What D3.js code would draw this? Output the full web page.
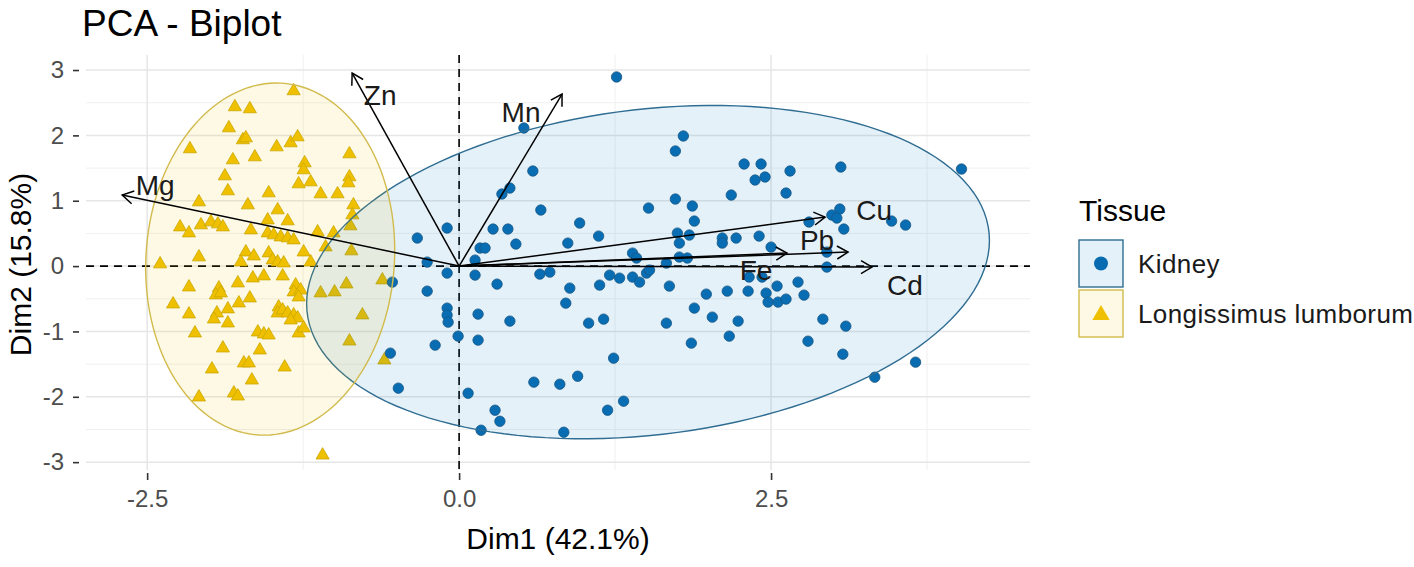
<!DOCTYPE html>
<html>
<head>
<meta charset="utf-8">
<script src="https://cdn.jsdelivr.net/npm/d3@7"></script>
<style>
  body { margin: 0; background: #fff; }
  svg { display: block; font-family: "Liberation Sans", Arial, sans-serif; }
</style>
</head>
<body>
<div id="chart"></div>
<script>
// individuals, [Dim1, Dim2]
const kidney = [
  [1.262, 2.894], [0.519, 2.113], [1.797, 1.991], [1.733, 1.761], [0.591, 1.455], [0.407, 1.194], [0.343, 1.103], [0.655, 0.858], [1.518, 0.888], [1.733, 1.026],
  [1.869, 0.919], [1.885, 0.689], [-0.096, 0.582], [-0.335, 0.429], [0.272, 0.567], [0.391, 0.567], [0.966, 0.659], [1.118, 0.459], [0.871, 0.352], [0.455, 0.337],
  [0.168, 0.276], [0.208, 0.276], [1.749, 0.505], [1.765, 0.352], [1.845, 0.475], [-0.256, 0.061], [0.128, 0.092], [1.390, 0.199], [1.422, 0.123], [1.661, 0.046],
  [1.765, 0.138], [1.829, 0.123], [-0.096, -0.107], [0.128, -0.138], [0.647, -0.123], [0.727, -0.092], [1.206, -0.138], [1.286, -0.184], [1.390, -0.168], [1.502, -0.107],
  [-0.535, -0.245], [-0.256, -0.383], [0.304, -0.276], [0.887, -0.337], [1.126, -0.291], [1.446, -0.245], [1.526, -0.061], [1.685, -0.306], [0.855, -0.567], [-0.096, -0.643],
  [-0.096, -0.750], [-0.088, -0.858], [0.152, -0.735], [0.407, -0.842], [1.038, -0.873], [1.158, -0.812], [1.661, -0.873], [1.885, -0.643], [-0.008, -1.072], [-0.192, -1.210],
  [0.152, -1.133], [1.861, -1.179], [-0.551, -1.332], [1.238, -1.409], [0.950, -1.685], [0.599, -1.776], [0.807, -1.807], [-0.487, -1.868], [0.072, -1.945], [1.318, -2.067],
  [1.190, -2.205], [0.288, -2.205], [0.327, -2.374], [0.176, -2.511], [0.839, -2.542], [2.284, 1.562], [2.420, 1.562], [2.372, 1.317], [2.452, 1.363], [2.652, 1.455],
  [3.059, 1.516], [4.026, 1.485], [2.181, 1.087], [2.620, 1.118], [2.987, 0.781], [3.051, 0.873], [3.027, 0.735], [3.466, 0.689], [3.578, 0.628], [3.083, 0.567],
  [2.109, 0.429], [2.109, 0.352], [2.220, 0.429], [2.404, 0.459], [2.500, 0.291], [2.804, 0.674], [2.947, 0.214], [2.947, -0.015], [2.324, -0.168], [2.428, -0.168],
  [1.981, -0.429], [2.149, -0.383], [2.316, -0.383], [2.460, -0.413], [2.476, -0.551], [2.556, -0.551], [2.620, -0.505], [2.548, -0.306], [2.716, -0.245], [2.764, -0.444],
  [2.029, -0.781], [2.236, -0.842], [2.165, -1.072], [2.915, -0.812], [3.099, -0.919], [2.796, -1.149], [3.075, -1.348], [3.658, -1.470], [3.331, -1.700]
];

const longissimus = [
  [-1.326, 2.680], [-1.797, 2.435], [-1.677, 2.404], [-1.845, 2.113], [-1.733, 1.930], [-1.709, 1.960], [-2.157, 1.792], [-1.462, 1.822], [-1.350, 1.884], [-1.294, 1.975],
  [-1.637, 1.669], [-1.813, 1.623], [-0.879, 1.715], [-1.238, 1.577], [-1.246, 1.470], [-1.877, 1.378], [-0.879, 1.363], [-0.887, 1.271], [-1.286, 1.256], [-1.190, 1.286],
  [-1.853, 1.149], [-1.526, 1.118], [-1.110, 1.103], [-0.974, 1.103], [-2.085, 0.980], [-1.693, 0.934], [-0.847, 0.934], [-0.855, 0.781], [-1.454, 0.858], [-2.069, 0.628],
  [-1.989, 0.674], [-1.933, 0.643], [-1.893, 0.597], [-2.236, 0.597], [-2.165, 0.505], [-1.534, 0.704], [-1.374, 0.689], [-1.669, 0.551], [-1.534, 0.505], [-1.486, 0.475],
  [-1.430, 0.444], [-1.374, 0.429], [-1.326, 0.398], [-1.134, 0.521], [-1.006, 0.505], [-0.871, 0.613], [-1.070, 0.291], [-1.246, 0.214], [-0.863, 0.230], [-2.085, 0.138],
  [-1.709, 0.214], [-1.645, 0.153], [-1.526, 0.199], [-1.494, 0.092], [-1.454, 0.061], [-2.396, 0.031], [-1.749, 0.061], [-1.190, 0.061], [-1.406, 0.046],
  [-2.165, -0.322], [-1.925, -0.337], [-1.949, -0.444], [-1.909, -0.413], [-1.773, -0.260], [-1.653, -0.184], [-1.565, -0.153], [-1.414, -0.153], [-1.310, -0.291], [-1.326, -0.398],
  [-1.270, -0.368], [-1.286, -0.475], [-1.110, -0.413], [-0.998, -0.398], [-0.903, -0.276], [-0.615, -0.214], [-2.292, -0.582], [-2.165, -0.735], [-1.941, -0.720], [-1.965, -0.812],
  [-1.853, -0.658], [-1.765, -0.567], [-1.677, -0.490], [-1.853, -0.873], [-1.446, -0.628], [-1.454, -0.720], [-1.414, -0.674], [-1.374, -0.720], [-1.326, -0.750], [-1.294, -0.796],
  [-1.350, -0.827], [-2.117, -1.026], [-1.613, -1.011], [-1.565, -1.041], [-1.526, -1.057], [-1.286, -1.026], [-1.246, -0.949], [-0.775, -0.750], [-1.893, -1.256], [-1.597, -1.286],
  [-0.879, -1.149], [-1.981, -1.577], [-1.725, -1.485], [-1.685, -1.485], [-1.398, -1.547], [-1.661, -1.746], [-0.599, -1.439], [-2.085, -2.006], [-1.805, -1.945], [-1.773, -1.991],
  [-1.094, -2.894]
];

const ellipseCentre = [[1.514, -0.092], [-1.514, 0.107]];
const ellipseHalfX = [2.736, 0.998];
const ellipseHalfY = [2.55, 2.694];
const ellipseRho = [0.19, 0.05];

// variable arrows (tips)
const varNames = ["Mg", "Zn", "Mn", "Cu", "Pb", "Fe", "Cd"];
const varDim1 = [-2.700, -0.857, 0.825, 2.933, 3.117, 2.628, 3.309];
const varDim2 = [1.087, 2.954, 2.633, 0.750, 0.214, 0.199, -0.015];

const groupNames = ["Kidney", "Longissimus lumborum"];
const xTicks = [-2.5, 0, 2.5];
const yTicks = [-3, -2, -1, 0, 1, 2, 3];

const palette = ["#0073C2", "#EFC000"];

const W = 1414, H = 567;
const panel = { left: 86, right: 1030, top: 55, bottom: 470 };

const svg = d3.select("#chart").append("svg")
  .attr("width", W).attr("height", H);

const x = d3.scaleLinear().domain([-2.99, 4.575]).range([panel.left, panel.right]);
const y = d3.scaleLinear().domain([-3.12, 3.23]).range([panel.bottom, panel.top]);

// grid (theme_minimal)
const grid = svg.append("g");
const xMinor = [-1.25, 1.25, 3.75];
const yMinor = [-2.5, -1.5, -0.5, 0.5, 1.5, 2.5];
grid.selectAll(".vminor").data(xMinor).enter().append("line")
  .attr("x1", (d) => x(d)).attr("x2", (d) => x(d))
  .attr("y1", panel.top).attr("y2", panel.bottom)
  .attr("stroke", "#f0f0f0").attr("stroke-width", 1);
grid.selectAll(".hminor").data(yMinor).enter().append("line")
  .attr("y1", (d) => y(d)).attr("y2", (d) => y(d))
  .attr("x1", panel.left).attr("x2", panel.right)
  .attr("stroke", "#f0f0f0").attr("stroke-width", 1);
grid.selectAll(".vmajor").data(xTicks).enter().append("line")
  .attr("x1", (d) => x(d)).attr("x2", (d) => x(d))
  .attr("y1", panel.top).attr("y2", panel.bottom)
  .attr("stroke", "#e6e6e6").attr("stroke-width", 1.5);
grid.selectAll(".hmajor").data(yTicks).enter().append("line")
  .attr("y1", (d) => y(d)).attr("y2", (d) => y(d))
  .attr("x1", panel.left).attr("x2", panel.right)
  .attr("stroke", "#e6e6e6").attr("stroke-width", 1.5);

// axes: short ticks and grey labels, no axis line, plain hyphen minus
const hyphen = (f) => (d) => f(d).replace("\u2212", "-");
const xAxis = d3.axisBottom(x).tickValues(xTicks).tickFormat(hyphen(d3.format(".1f")))
  .tickSize(7).tickPadding(10);
const gx = svg.append("g").attr("transform", `translate(0,${panel.bottom + 3})`).call(xAxis);
const yAxis = d3.axisLeft(y).tickValues(yTicks).tickFormat(hyphen(d3.format("d")))
  .tickSize(6).tickPadding(9);
const gy = svg.append("g").attr("transform", `translate(${panel.left - 7},0)`).call(yAxis);
[gx, gy].forEach((g) => {
  g.select(".domain").remove();
  g.selectAll(".tick line").attr("stroke", "#333").attr("stroke-width", 1.6);
  g.selectAll(".tick text").attr("fill", "#4d4d4d").attr("font-size", 24)
    .attr("font-family", "Liberation Sans, Arial, sans-serif");
});

// reference lines
svg.append("line")
  .attr("x1", panel.left).attr("x2", panel.right)
  .attr("y1", y(0)).attr("y2", y(0))
  .attr("stroke", "#000").attr("stroke-width", 1.6).attr("stroke-dasharray", "8,6");
svg.append("line")
  .attr("x1", x(0)).attr("x2", x(0))
  .attr("y1", panel.top).attr("y2", panel.bottom)
  .attr("stroke", "#000").attr("stroke-width", 1.6).attr("stroke-dasharray", "8,6");

// points
const triangle = d3.symbol().type(d3.symbolTriangle).size(75);
svg.append("g").selectAll("path").data(longissimus).enter().append("path")
  .attr("d", triangle)
  .attr("transform", (d) => `translate(${x(d[0])},${y(d[1])})`)
  .attr("fill", palette[1]).attr("stroke", "#c9a400").attr("stroke-width", 0.8);
svg.append("g").selectAll("circle").data(kidney).enter().append("circle")
  .attr("cx", (d) => x(d[0])).attr("cy", (d) => y(d[1])).attr("r", 5.2)
  .attr("fill", "#0a6cb0").attr("stroke", "#1b5680").attr("stroke-width", 0.8);

// concentration ellipses, drawn over the points with a light fill
function ellipsePoints(i) {
  const [mx, my] = ellipseCentre[i];
  const a = ellipseHalfX[i];
  const b = ellipseRho[i] * ellipseHalfY[i];
  const c = ellipseHalfY[i] * Math.sqrt(1 - ellipseRho[i] ** 2);
  return d3.range(0, 2 * Math.PI, Math.PI / 72).map((t) => [
    mx + a * Math.cos(t),
    my + b * Math.cos(t) + c * Math.sin(t)
  ]);
}
const ellLine = d3.line().x((d) => x(d[0])).y((d) => y(d[1])).curve(d3.curveLinearClosed);
const ellStroke = ["#2f6d92", "#d2bb4c"];
groupNames.forEach((name, i) => {
  svg.append("path")
    .attr("d", ellLine(ellipsePoints(i)))
    .attr("fill", palette[i]).attr("fill-opacity", 0.1)
    .attr("stroke", ellStroke[i]).attr("stroke-width", 1.4);
});

// variable arrows
svg.append("defs").append("marker")
  .attr("id", "arrowhead")
  .attr("viewBox", "-14 -9 16 18")
  .attr("refX", 0).attr("refY", 0)
  .attr("markerWidth", 16).attr("markerHeight", 18)
  .attr("markerUnits", "userSpaceOnUse")
  .attr("orient", "auto")
  .append("path")
  .attr("d", "M-11,-6.5L0,0L-11,6.5")
  .attr("fill", "none").attr("stroke", "#000").attr("stroke-width", 1.5);

const vars = varNames.map((name, i) => ({ name, d1: varDim1[i], d2: varDim2[i] }));
svg.append("g").selectAll("line").data(vars).enter().append("line")
  .attr("x1", x(0)).attr("y1", y(0))
  .attr("x2", (d) => x(d.d1)).attr("y2", (d) => y(d.d2))
  .attr("stroke", "#000").attr("stroke-width", 1.5)
  .attr("marker-end", "url(#arrowhead)");

// repelled label offsets (px from arrow tip to label centre / baseline)
const labelNudge = {
  Mg: [33, 0], Zn: [28, 32], Mn: [-41, 28], Cu: [49, 3],
  Pb: [-31, -2], Fe: [-31, 27], Cd: [33, 28]
};
svg.append("g").selectAll("text").data(vars).enter().append("text")
  .attr("x", (d) => x(d.d1) + labelNudge[d.name][0])
  .attr("y", (d) => y(d.d2) + labelNudge[d.name][1])
  .attr("text-anchor", "middle")
  .attr("font-size", 28).attr("fill", "#1a1a1a")
  .text((d) => d.name);

// titles
svg.append("text").attr("x", 82).attr("y", 36)
  .attr("font-size", 37).attr("fill", "#000").text("PCA - Biplot");
svg.append("text").attr("x", (panel.left + panel.right) / 2).attr("y", 549)
  .attr("text-anchor", "middle").attr("font-size", 30).attr("fill", "#000")
  .text("Dim1 (42.1%)");
svg.append("text").attr("transform", `translate(31,${(panel.top + panel.bottom) / 2 + 2}) rotate(-90)`)
  .attr("text-anchor", "middle").attr("font-size", 30).attr("fill", "#000")
  .text("Dim2 (15.8%)");

// legend
const legend = svg.append("g").attr("transform", "translate(1079,0)");
legend.append("text").attr("x", 0).attr("y", 221)
  .attr("font-size", 30).attr("fill", "#000").text("Tissue");
const keyH = 50;
groupNames.forEach((name, i) => {
  const top = 240 + i * keyH;
  legend.append("rect").attr("x", 0).attr("y", top).attr("width", 44).attr("height", 47)
    .attr("fill", palette[i]).attr("fill-opacity", 0.1)
    .attr("stroke", ellStroke[i]).attr("stroke-width", 1.4);
  if (i === 0) {
    legend.append("circle").attr("cx", 22).attr("cy", top + 23.5).attr("r", 7)
      .attr("fill", "#0a6cb0");
  } else {
    legend.append("path").attr("d", d3.symbol().type(d3.symbolTriangle).size(130))
      .attr("transform", `translate(22,${top + 25})`)
      .attr("fill", palette[1]);
  }
  legend.append("text").attr("x", 59).attr("y", top + 24)
    .attr("dominant-baseline", "central")
    .attr("font-size", 26).attr("letter-spacing", 0.4).attr("fill", "#1a1a1a")
    .text(name);
});
</script>
</body>
</html>
